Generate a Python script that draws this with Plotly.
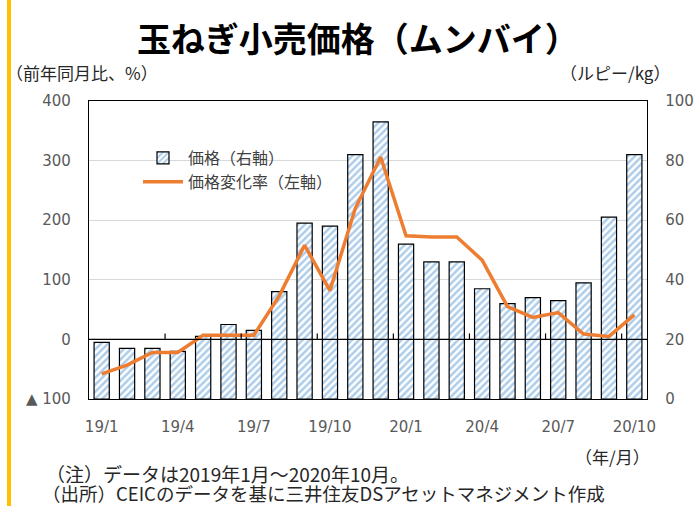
import plotly.graph_objects as go

months = ["19/1","19/2","19/3","19/4","19/5","19/6","19/7","19/8","19/9","19/10","19/11","19/12",
          "20/1","20/2","20/3","20/4","20/5","20/6","20/7","20/8","20/9","20/10"]
price = [19, 17, 17, 16, 21, 25, 23, 36, 59, 58, 82, 93, 52, 46, 46, 37, 32, 34, 33, 39, 61, 82]
change_rate = [-58, -43, -22, -22, 7, 7, 7, 73, 158, 82, 220, 306, 174, 172, 172, 133, 55, 37, 45, 9, 5, 41]
x_tick_labels = ["19/1","19/4","19/7","19/10","20/1","20/4","20/7","20/10"]
left_ticks = [-100, 0, 100, 200, 300, 400]
left_tick_text = ["▲ 100", "0", "100", "200", "300", "400"]

xs = list(range(len(months)))
tick_idx = [months.index(m) for m in x_tick_labels]
boundary_ticks = [i - 0.5 for i in tick_idx[1:]]

NUM = "DejaVu Sans, Noto Sans CJK JP"
JP = "Noto Sans CJK JP"

W, H = 699, 506
L, R, T, B = 89, 52, 101, 107
pw, ph = W - L - R, H - T - B
def px(x): return (x - L) / pw
def py(y): return (H - B - y) / ph

fig = go.Figure()
fig.add_trace(go.Bar(
    x=xs, y=price, name="価格（右軸）", xaxis="x", yaxis="y", width=0.6,
    marker=dict(color="#5B9BD5", line=dict(color="black", width=1.2),
                pattern=dict(shape="/", fgcolor="#5B9BD5", bgcolor="white", size=5, solidity=0.5)),
    legendgroup="a",
))
fig.add_trace(go.Scatter(
    x=xs, y=change_rate, name="価格変化率（左軸）", xaxis="x", yaxis="y2", mode="lines",
    line=dict(color="#ED7D31", width=3.5), legendgroup="b",
))

fig.update_layout(
    width=W, height=H, margin=dict(l=L, r=R, t=T, b=B, autoexpand=False),
    paper_bgcolor="white", plot_bgcolor="white",
    title=dict(text="<b>玉ねぎ小売価格（ムンバイ）</b>", x=0.512, xref="container", xanchor="center",
               y=1 - 40 / H, yanchor="middle", font=dict(family=JP, size=34, color="black")),
    xaxis=dict(range=[-0.5, len(months) - 0.5], tickvals=tick_idx, ticktext=x_tick_labels,
               showline=True, linecolor="black", linewidth=1.3, mirror=True, showgrid=False,
               zeroline=False, ticks="", ticklabelstandoff=14, automargin=False,
               tickfont=dict(family=NUM, size=15, color="#595959")),
    # right axis (price) - primary, carries the gridlines
    yaxis=dict(range=[0, 100], dtick=20, side="right",
               showline=True, linecolor="black", linewidth=1.3, showgrid=True, gridcolor="#D9D9D9",
               gridwidth=1, zeroline=False, ticks="", ticklabelstandoff=14, automargin=False,
               tickfont=dict(family=NUM, size=15, color="#595959")),
    # left axis (change rate)
    yaxis2=dict(range=[-100, 400], tickvals=left_ticks, ticktext=left_tick_text, side="left",
                overlaying="y", anchor="x",
                showline=True, linecolor="black", linewidth=1.3, showgrid=False, zeroline=False,
                ticks="", ticklabelstandoff=14, automargin=False,
                tickfont=dict(family=NUM, size=15, color="#595959")),
    legend=dict(x=px(138), y=py(141), xanchor="left", yanchor="top", bgcolor="rgba(0,0,0,0)",
                font=dict(family=JP, size=16, color="#404040"), itemwidth=40, tracegroupgap=19,
                traceorder="normal"),
    showlegend=True,
)

# left-axis zero line (category axis crossing) with upward ticks at quarter boundaries
fig.add_shape(type="line", xref="x", yref="y2", x0=-0.5, x1=len(months) - 0.5, y0=0, y1=0,
              line=dict(color="black", width=1.3), layer="above")
for b in boundary_ticks:
    fig.add_shape(type="line", xref="x", yref="y2", ysizemode="pixel", yanchor=0,
                  x0=b, x1=b, y0=0, y1=6, line=dict(color="black", width=1.2), layer="above")

fig.add_shape(type="rect", xref="paper", yref="paper", x0=px(7), x1=px(11), y0=py(H), y1=py(0),
              fillcolor="#FFC000", line=dict(width=0), layer="above")

annots = [
    dict(text="（前年同月比、%）", x=px(4), y=py(72), xanchor="left", size=17),
    dict(text="（ルピー/kg）", x=px(672), y=py(72), xanchor="right", size=17),
    dict(text="（年/月）", x=px(652), y=py(456), xanchor="right", size=17),
    dict(text="（注）データは2019年1月～2020年10月。", x=px(44), y=py(473), xanchor="left", size=19),
    dict(text="（出所）CEICのデータを基に三井住友DSアセットマネジメント作成", x=px(40), y=py(493), xanchor="left", size=18.5),
]
for a in annots:
    fig.add_annotation(text=a["text"], x=a["x"], y=a["y"], xref="paper", yref="paper",
                       xanchor=a["xanchor"], yanchor="middle", showarrow=False,
                       font=dict(family=JP, size=a["size"], color="#262626"))

fig.write_html("out.html", post_script="document.body.style.margin='0';",
               config={"displayModeBar": False})
